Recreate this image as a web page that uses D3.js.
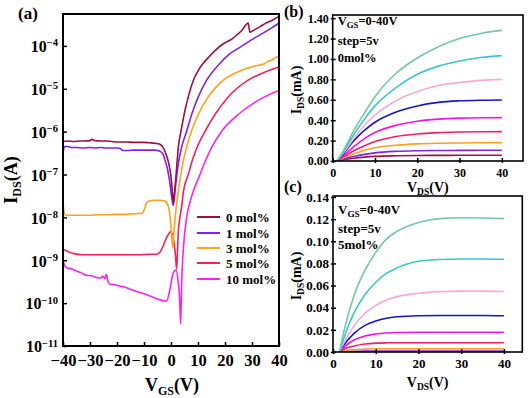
<!DOCTYPE html>
<html><head><meta charset="utf-8">
<script src="https://cdn.jsdelivr.net/npm/d3@7/dist/d3.min.js"></script>
<style>
body{margin:0;background:#fff}
svg{display:block}
text{font-family:"Liberation Serif","Times New Roman",serif;font-weight:bold;fill:#000}
</style></head><body>
<svg id="fig" width="528" height="398"></svg>
<script>
// ---------- Panel (a): transfer curves, I_DS (log10 A) vs V_GS ----------
const seriesNamesA = ["0 mol%", "1 mol%", "3 mol%", "5 mol%", "10 mol%"];
const seriesColorsA = ["#9a1040", "#7f22f0", "#ffa21e", "#f3225a", "#ff22ee"];
const vgs0 = [-40,-38,-36,-34,-32,-30,-29.4,-28,-26,-24,-22,-20,-18,-16,-14,-12,-10,-8,-6,-5,-4,-3,-2,-1,0,0.5,0.86,1.2,1.73,2.2,2.72,3.7,5.2,6.4,8.3,10.1,11.9,14,16.3,19.4,22.5,24.5,26.2,28.6,29.2,31,33,34.8,37.5,40];
const logI0 = [-6.23,-6.22,-6.23,-6.22,-6.22,-6.21,-6.18,-6.21,-6.22,-6.22,-6.23,-6.24,-6.24,-6.24,-6.25,-6.25,-6.25,-6.26,-6.27,-6.28,-6.3,-6.36,-6.5,-6.7,-7.05,-7.4,-7.67,-7.5,-7.13,-6.75,-6.36,-5.99,-5.5,-5.19,-4.8,-4.57,-4.41,-4.26,-4.11,-3.95,-3.84,-3.74,-3.64,-3.47,-3.68,-3.62,-3.55,-3.48,-3.40,-3.31];
const vgs1 = [-40,-39.5,-38.7,-37,-35,-32.6,-30,-28,-26,-24,-22,-20,-19,-17.7,-16,-14,-12,-10,-8,-6,-5,-4,-3,-2.2,-1.2,-0.3,0.3,0.86,1.3,1.8,2.7,3.95,5.8,7.65,10.1,13.2,18.1,21.5,25.6,29.5,33.6,37,40];
const logI1 = [-6.5,-6.36,-6.34,-6.37,-6.37,-6.38,-6.37,-6.38,-6.37,-6.38,-6.38,-6.38,-6.39,-6.44,-6.44,-6.43,-6.43,-6.43,-6.43,-6.43,-6.44,-6.46,-6.52,-6.67,-6.9,-7.25,-7.55,-7.72,-7.5,-7.2,-6.75,-6.36,-5.99,-5.6,-5.19,-4.8,-4.41,-4.2,-4.03,-3.87,-3.72,-3.59,-3.47];
const vgs3 = [-40,-39.5,-39,-37,-35,-33,-30,-27,-24,-21,-18,-15,-12,-10.5,-9.8,-9,-8,-6,-4,-2.2,-1,-0.37,0.2,0.62,1.0,1.48,2.3,3.33,4.5,5.8,7.8,10.1,13.8,19.4,26.2,31,34.8,36,37.5,38.5,40];
const logI3 = [-7.66,-7.9,-7.95,-7.95,-7.95,-7.95,-7.95,-7.94,-7.94,-7.93,-7.93,-7.92,-7.91,-7.9,-7.8,-7.66,-7.62,-7.6,-7.6,-7.62,-7.74,-7.97,-8.35,-8.70,-8.4,-8.05,-7.58,-7.13,-6.7,-6.36,-5.95,-5.6,-5.19,-4.8,-4.57,-4.47,-4.41,-4.36,-4.33,-4.28,-4.25];
const vgs5 = [-40,-38,-36.3,-32.6,-28,-24,-20,-16,-12,-8,-5.3,-4,-3,-2.2,-1,-0.12,0.5,1.1,1.6,2.1,2.4,2.7,3.3,3.95,4.6,6.4,8,10.1,13,16.3,21.2,28.6,34,40];
const logI5 = [-8.74,-8.8,-8.84,-8.87,-8.87,-8.87,-8.87,-8.87,-8.87,-8.86,-8.86,-8.8,-8.68,-8.55,-8.4,-8.33,-8.4,-8.59,-8.85,-9.21,-8.8,-8.35,-8.0,-7.75,-7.4,-7.0,-6.65,-6.3,-5.95,-5.6,-5.19,-4.8,-4.63,-4.49];
const vgs10 = [-40,-39.5,-38.8,-37,-35,-33,-31.4,-29.5,-27.7,-26,-25.3,-24.5,-24,-23.3,-22.6,-21,-18.9,-17,-15.3,-13.5,-11.6,-10,-8,-6,-3.7,-1.6,-0.37,0.86,1.85,2.7,3.2,3.58,3.95,4.57,5.8,6.8,8.5,10.1,12.5,15.1,18.8,24.9,32.3,40];
const logI10 = [-9.02,-9.1,-9.17,-9.2,-9.25,-9.3,-9.35,-9.36,-9.4,-9.42,-9.37,-9.43,-9.33,-9.5,-9.56,-9.57,-9.6,-9.63,-9.67,-9.71,-9.75,-9.78,-9.83,-9.88,-9.93,-9.95,-9.67,-9.29,-9.23,-9.52,-9.9,-10.49,-9.52,-8.74,-8.0,-7.7,-7.35,-7.1,-6.72,-6.36,-5.99,-5.6,-5.27,-5.04];
const xTicksA = [-40,-30,-20,-10,0,10,20,30,40];
const yExpTicksA = [-11,-10,-9,-8,-7,-6,-5,-4];

// ---------- Panel (b): output curves, 0 mol% ----------
const vdsB = [1, 2.5, 5, 7.5, 10, 15, 20, 25, 30, 35, 40];
const idsB_vg5  = [0, 0.012, 0.027, 0.038, 0.045, 0.051, 0.054, 0.055, 0.056, 0.056, 0.056];
const idsB_vg10 = [0, 0.02, 0.045, 0.065, 0.08, 0.095, 0.101, 0.103, 0.104, 0.105, 0.105];
const idsB_vg15 = [0, 0.03, 0.07, 0.105, 0.13, 0.155, 0.168, 0.174, 0.177, 0.179, 0.18];
const idsB_vg20 = [0, 0.04, 0.10, 0.15, 0.19, 0.24, 0.265, 0.278, 0.284, 0.287, 0.288];
const idsB_vg25 = [0, 0.05, 0.14, 0.22, 0.28, 0.35, 0.39, 0.41, 0.42, 0.424, 0.425];
const idsB_vg30 = [0, 0.07, 0.20, 0.30, 0.38, 0.48, 0.54, 0.575, 0.59, 0.596, 0.598];
const idsB_vg35 = [0, 0.08, 0.22, 0.35, 0.45, 0.59, 0.68, 0.74, 0.77, 0.79, 0.80];
const idsB_vg40 = [0, 0.09, 0.26, 0.41, 0.54, 0.72, 0.85, 0.93, 0.98, 1.015, 1.033];
const idsB_vg45 = [0, 0.10, 0.30, 0.47, 0.63, 0.86, 1.01, 1.12, 1.20, 1.25, 1.28];
const xTicksB = [0,10,20,30,40];
const yTicksB = [0,0.2,0.4,0.6,0.8,1.0,1.2,1.4];

// ---------- Panel (c): output curves, 5 mol% ----------
const vdsC = [1.5, 2.5, 5, 7.5, 10, 12.5, 15, 20, 25, 30, 35, 40];
const idsC_vg5  = [0, 0.0001, 0.0002, 0.0002, 0.0002, 0.0002, 0.0002, 0.0002, 0.0002, 0.0002, 0.0002, 0.0002];
const idsC_vg10 = [0, 0.0003, 0.0006, 0.0008, 0.0008, 0.0008, 0.0008, 0.0008, 0.0008, 0.0008, 0.0008, 0.0008];
const idsC_vg15 = [0, 0.001, 0.0021, 0.0026, 0.0029, 0.003, 0.003, 0.003, 0.003, 0.003, 0.003, 0.003];
const idsC_vg20 = [0, 0.0025, 0.0055, 0.0072, 0.008, 0.0083, 0.0084, 0.0084, 0.0084, 0.0084, 0.0084, 0.0084];
const idsC_vg25 = [0, 0.004, 0.011, 0.0145, 0.0162, 0.0171, 0.0176, 0.0178, 0.0178, 0.0178, 0.0178, 0.0178];
const idsC_vg30 = [0, 0.006, 0.017, 0.024, 0.028, 0.0305, 0.0318, 0.0328, 0.033, 0.033, 0.033, 0.0328];
const idsC_vg35 = [0, 0.008, 0.024, 0.035, 0.042, 0.047, 0.05, 0.053, 0.0545, 0.055, 0.055, 0.0547];
const idsC_vg40 = [0, 0.012, 0.036, 0.052, 0.063, 0.071, 0.076, 0.082, 0.0835, 0.084, 0.084, 0.0837];
const idsC_vg45 = [0, 0.018, 0.052, 0.074, 0.09, 0.102, 0.109, 0.117, 0.1205, 0.1212, 0.121, 0.1205];
const xTicksC = [0,10,20,30,40];
const yTicksC = [0,0.02,0.04,0.06,0.08,0.10,0.12,0.14];

const outColors = ["#9c1548", "#8024ec", "#ffa01e", "#ee1f6e", "#f214e4", "#1616c8", "#f6a9da", "#3ec6c8", "#72c9a2"];

// ================= drawing =================
const svg = d3.select("#fig");

function styleAxis(g, fs){
  g.select(".domain").remove();
  g.selectAll(".tick line").attr("stroke","#000").attr("stroke-width",1.5);
  g.selectAll(".tick text").attr("font-size",fs).attr("font-family","Liberation Serif").attr("font-weight","bold").attr("fill","#000");
}

// ---- Panel (a)
(function(){
  const L=63,R=279,T=14,B=346;
  const x = d3.scaleLinear().domain([-40,40]).range([L,R]);
  const y = d3.scaleLog().domain([1e-11, Math.pow(10,-3.256)]).range([B,T]);
  const g = svg.append("g");
  g.append("clipPath").attr("id","clipA").append("rect").attr("x",L).attr("y",T).attr("width",R-L).attr("height",B-T);
  const line = d3.line().x(d=>x(d[0])).y(d=>y(Math.pow(10,d[1]))).curve(d3.curveMonotoneX);
  const vs=[vgs0,vgs1,vgs3,vgs5,vgs10], ls=[logI0,logI1,logI3,logI5,logI10];
  const order=[4,3,2,1,0];
  order.forEach(i=>{
    const pts = d3.zip(vs[i], ls[i]);
    g.append("path").attr("d",line(pts)).attr("fill","none").attr("stroke",seriesColorsA[i])
      .attr("stroke-width",1.6).attr("clip-path","url(#clipA)");
  });
  const ax = g.append("g").attr("transform",`translate(0,${B})`)
    .call(d3.axisBottom(x).tickValues(xTicksA).tickSizeInner(-4).tickSizeOuter(0).tickPadding(8)
      .tickFormat(d=> d<0 ? "\u2212"+Math.abs(d) : String(d)));
  styleAxis(ax,16.5);
  const ay = g.append("g").attr("transform",`translate(${L},0)`)
    .call(d3.axisLeft(y).tickValues(yExpTicksA.map(e=>Math.pow(10,e))).tickSizeInner(-4).tickSizeOuter(0).tickPadding(5).tickFormat(""));
  styleAxis(ay,16);
  ay.selectAll(".tick text").each(function(d){
    const t=d3.select(this); const e=Math.round(Math.log10(d));
    t.text(null).attr("dy","0.36em");
    t.append("tspan").text("10");
    t.append("tspan").attr("font-size",10.5).attr("dy","-0.55em").text("\u2212"+Math.abs(e));
  });
  g.append("rect").attr("x",L).attr("y",T).attr("width",R-L).attr("height",B-T)
    .attr("fill","none").attr("stroke","#000").attr("stroke-width",2);
  // titles
  const xt = g.append("text").attr("x",(L+R)/2+1).attr("y",391).attr("text-anchor","middle").attr("font-size",18);
  xt.append("tspan").text("V");
  xt.append("tspan").attr("font-size",12).attr("dy",4).text("GS");
  xt.append("tspan").attr("dy",-4).text("(V)");
  const yt = g.append("text").attr("transform",`translate(17,${(T+B)/2}) rotate(-90)`).attr("text-anchor","middle").attr("font-size",18);
  yt.append("tspan").text("I");
  yt.append("tspan").attr("font-size",12).attr("dy",4).text("DS");
  yt.append("tspan").attr("dy",-4).text("(A)");
  g.append("text").attr("x",18).attr("y",19).attr("font-size",17).text("(a)");
  // legend
  const rows=[217,233,248,263,279];
  seriesNamesA.forEach((n,i)=>{
    g.append("line").attr("x1",197).attr("x2",220).attr("y1",rows[i]).attr("y2",rows[i])
      .attr("stroke",seriesColorsA[i]).attr("stroke-width",2);
    g.append("text").attr("x",226).attr("y",rows[i]+4.5).attr("font-size",13).text(n);
  });
})();

// ---- Output panels
function outputPanel(o){
  const {L,R,T,B,xDom,yDom,vds,curves,xTicks,yTicks,fs,texts,textRows,tfs,tag,tagY,xTitleY,clipId} = o;
  const x = d3.scaleLinear().domain(xDom).range([L,R]);
  const y = d3.scaleLinear().domain(yDom).range([B,T]);
  const g = svg.append("g");
  g.append("clipPath").attr("id",clipId).append("rect").attr("x",L).attr("y",T).attr("width",R-L).attr("height",B-T);
  const line = d3.line().x(d=>x(d[0])).y(d=>y(d[1])).curve(d3.curveMonotoneX);
  curves.forEach((c,i)=>{
    g.append("path").attr("d",line(d3.zip(vds,c))).attr("fill","none").attr("stroke",outColors[i])
      .attr("stroke-width",1.6).attr("clip-path",`url(#${clipId})`);
  });
  const ax = g.append("g").attr("transform",`translate(0,${B})`)
    .call(d3.axisBottom(x).tickValues(xTicks).tickSizeInner(-3).tickSizeOuter(0).tickPadding(7).tickFormat(d3.format("d")));
  styleAxis(ax,fs);
  const ax2 = g.append("g").attr("transform",`translate(0,${B})`)
    .call(d3.axisBottom(x).tickValues(xTicks).tickSizeInner(2).tickSizeOuter(0).tickFormat(""));
  styleAxis(ax2,fs);
  const ay = g.append("g").attr("transform",`translate(${L},0)`)
    .call(d3.axisLeft(y).tickValues(yTicks).tickSizeInner(-3).tickSizeOuter(0).tickPadding(4).tickFormat(d3.format(".2f")));
  styleAxis(ay,fs);
  const ay2 = g.append("g").attr("transform",`translate(${L},0)`)
    .call(d3.axisLeft(y).tickValues(yTicks).tickSizeInner(2).tickSizeOuter(0).tickFormat(""));
  styleAxis(ay2,fs);
  g.append("rect").attr("x",L).attr("y",T).attr("width",R-L).attr("height",B-T)
    .attr("fill","none").attr("stroke","#000").attr("stroke-width",1.6);
  // inside annotation
  const t1 = g.append("text").attr("x",L+5).attr("y",textRows[0]+4.5).attr("font-size",tfs);
  t1.append("tspan").text("V");
  t1.append("tspan").attr("font-size",tfs*0.7).attr("dy",3).text("GS");
  t1.append("tspan").attr("dy",-3).text(texts[0]);
  g.append("text").attr("x",L+5).attr("y",textRows[1]+4.5).attr("font-size",tfs).text(texts[1]);
  g.append("text").attr("x",L+5).attr("y",textRows[2]+4.5).attr("font-size",tfs).text(texts[2]);
  // titles
  const xt = g.append("text").attr("x",(L+R)/2).attr("y",xTitleY).attr("text-anchor","middle").attr("font-size",14);
  xt.append("tspan").text("V");
  xt.append("tspan").attr("font-size",9.5).attr("dy",3).text("DS");
  xt.append("tspan").attr("dy",-3).text("(V)");
  const yt = g.append("text").attr("transform",`translate(301,${(T+B)/2+2}) rotate(-90)`).attr("text-anchor","middle").attr("font-size",14);
  yt.append("tspan").text("I");
  yt.append("tspan").attr("font-size",9.5).attr("dy",3).text("DS");
  yt.append("tspan").attr("dy",-3).text("(mA)");
  g.append("text").attr("x",284).attr("y",tagY).attr("font-size",16).text(tag);
}

outputPanel({L:332.7,R:523,T:15,B:161,xDom:[0,45],yDom:[0,1.431],vds:vdsB,
  curves:[idsB_vg5,idsB_vg10,idsB_vg15,idsB_vg20,idsB_vg25,idsB_vg30,idsB_vg35,idsB_vg40,idsB_vg45],
  xTicks:xTicksB,yTicks:yTicksB,fs:12,texts:["=0-40V","step=5v","0mol%"],textRows:[20,40,57],tfs:12.5,
  tag:"(b)",tagY:17,xTitleY:192,clipId:"clipB"});
outputPanel({L:333,R:522.3,T:196,B:352,xDom:[0,44.3],yDom:[0,0.1409],vds:vdsC,
  curves:[idsC_vg5,idsC_vg10,idsC_vg15,idsC_vg20,idsC_vg25,idsC_vg30,idsC_vg35,idsC_vg40,idsC_vg45],
  xTicks:xTicksC,yTicks:yTicksC,fs:13,texts:["=0-40V","step=5v","5mol%"],textRows:[209,228,244],tfs:13,
  tag:"(c)",tagY:192,xTitleY:387,clipId:"clipC"});
</script>
</body></html>
